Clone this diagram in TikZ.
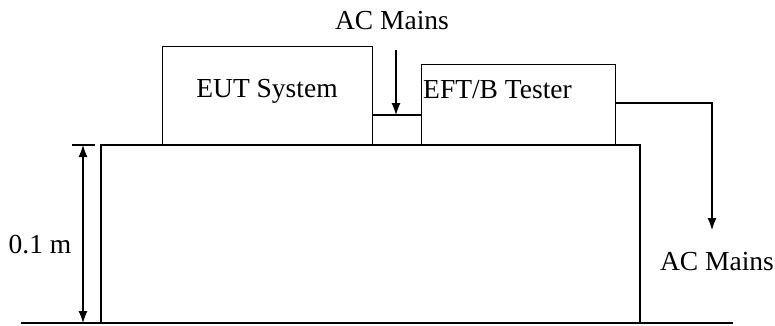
\documentclass[tikz,border=0pt]{standalone}
\usepackage{fontspec}
\setmainfont{Liberation Serif}
\usetikzlibrary{arrows.meta}
\begin{document}
\begin{tikzpicture}[x=1pt,y=-1pt,
  box/.style={draw,line width=1.1pt,inner sep=0pt},
  lbl/.style={font=\fontsize{27.5}{30}\selectfont,inner sep=0pt,anchor=base},
  arr/.style={-{Latex[length=12pt,width=9pt]},line width=1.1pt}]
\useasboundingbox (0,0) rectangle (775,325);
% table
\draw[line width=1.1pt] (101,323) -- (101,145) coordinate (tl) -- (640,145) coordinate (tr) -- (640,323);
% ground
\draw[line width=2.2pt] (21,323) coordinate (gl) -- (733,323) coordinate (gr);
% boxes
\node[box,minimum width=210pt,minimum height=98pt,anchor=south west] (eut) at (162,145) {};
\node[box,minimum width=194pt,minimum height=80pt,anchor=south west] (eft) at (421,145) {};
\node[lbl] at (267,97) {EUT System};
\node[lbl,anchor=base west] at (423,98) {EFT/B Tester};
% connection
\draw[line width=1.8pt] (eut.south east |- 0,115) coordinate (c1) -- (eft.west |- 0,115) coordinate (c2);
% AC mains top
\node[lbl] (ac1) at (392,29) {AC Mains};
\coordinate (a1) at (396,50);
\coordinate (a2) at (396,115);
\draw[arr] (a1) -- (a2);
% output
\coordinate (o1) at (615,103);
\coordinate (o2) at (712,103);
\coordinate (o3) at (712,230);
\draw[arr] (o1) -- (o2) -- (o3);
\node[lbl] (ac2) at (717,270) {AC Mains};
% dimension
\coordinate (d1) at (83,145);
\coordinate (d2) at (83,323);
\draw[line width=1.1pt] (72,145) coordinate (t1) -- (95,145) coordinate (t2);
\draw[{Latex[length=12pt,width=9pt]}-{Latex[length=12pt,width=9pt]},line width=1.1pt] (d1) -- (d2);
\node[lbl] (dim) at (40,253) {0.1 m};
\end{tikzpicture}
\end{document}
